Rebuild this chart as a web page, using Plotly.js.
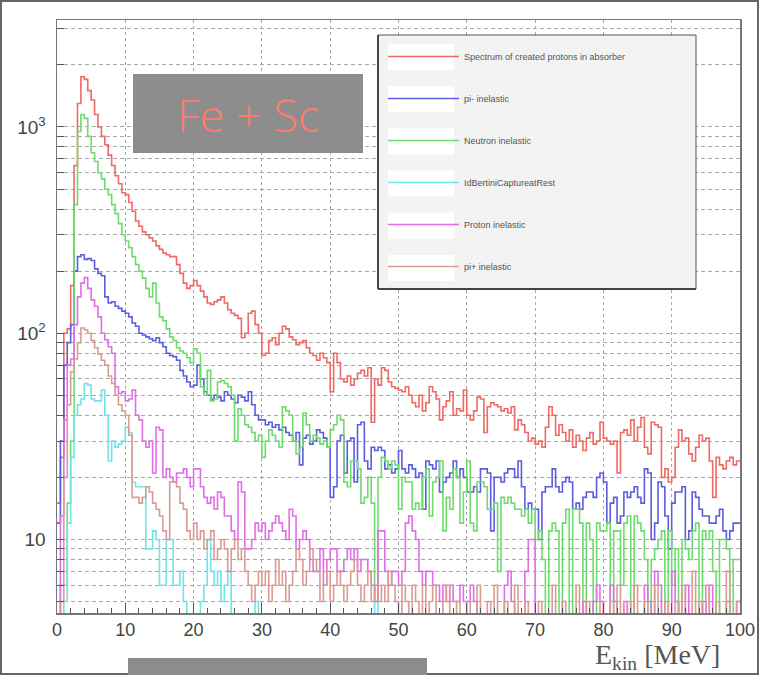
<!DOCTYPE html>
<html>
<head>
<meta charset="utf-8">
<script src="https://cdn.plot.ly/plotly-3.0.1.min.js"></script>
<style>html,body{margin:0;padding:0;background:#fff;}#chart{width:759px;height:675px;}</style>
</head>
<body>
<div id="chart"></div>
<script>
// Histogram binning: 200 bins of 0.5 MeV from 0 to 100 MeV
const binStart = 0;
const binWidth = 0.5;

const seriesNames = [
  "Spectrum of created protons in absorber",
  "pi- inelastic",
  "Neutron inelastic",
  "IdBertiniCaptureatRest",
  "Proton inelastic",
  "pi+ inelastic"
];

const totalSpectrum = [
  15,25,100,105,170,650,1300,1750,1700,1500,1350,1150,1000,900,820,730,650,580,530,480,
  470,430,390,350,330,310,300,290,280,265,255,245,240,235,235,215,195,175,165,170,
  180,170,160,150,140,138,142,145,150,140,130,125,122,118,95,100,125,128,110,100,
  78,80,92,95,88,100,108,105,96,93,88,90,92,85,80,78,74,80,76,72,
  52,80,72,60,58,62,56,60,64,66,62,68,37,60,56,68,66,58,55,54,
  53,52,55,50,46,44,50,42,46,55,52,48,38,44,47,52,40,43,42,53,
  40,38,42,49,48,33,44,46,45,44,42,43,41,44,34,38,36,33,30,31,
  29,30,28,35,44,40,32,36,33,30,34,28,32,30,27,31,33,29,30,37,
  31,30,29,30,21,33,34,32,38,30,35,39,28,26,37,36,35,20,22,19,
  20,28,34,30,31,26,24,28,32,30,31,24,16,25,23,22,24,25,23,24
];

const piMinusInelastic = [
  12,30,70,90,110,200,235,240,228,230,225,205,195,190,150,140,142,135,132,128,
  125,120,112,108,100,98,96,94,92,95,90,86,80,78,77,74,66,62,58,55,
  56,70,60,52,50,48,50,49,47,52,50,48,46,50,49,47,52,45,40,38,
  38,36,37,35,36,34,35,33,32,30,33,23,31,32,29,30,34,33,31,28,
  16,18,30,32,21,30,31,19,36,37,24,22,28,27,28,27,22,23,21,22,
  27,22,21,23,22,20,21,14,24,23,22,24,17,19,20,21,24,20,22,20,
  17,17,18,17,22,22,21,11,20,20,19,21,22,22,20,24,18,14,15,14,
  14,10,17,18,18,22,18,17,19,20,19,14,15,14,16,17,17,16,20,21,
  19,12,15,16,12,13,17,16,17,18,16,15,22,21,10,12,19,18,13,9,
  15,17,17,18,10,11,17,16,14,13,13,12,12,13,14,11,10,11,12,12
];

const neutronInelastic = [
  2,6,6,15,30,420,950,1150,1100,900,750,680,600,560,500,470,420,380,340,300,
  280,260,235,215,200,185,165,150,175,140,120,115,105,96,92,85,82,80,76,72,
  84,80,55,50,66,47,48,58,59,57,55,50,30,43,40,36,35,33,30,32,
  25,30,34,32,30,28,44,42,40,30,26,28,41,36,30,32,31,29,30,28,
  34,36,40,38,19,18,24,24,22,15,16,20,15,5,20,25,24,22,24,23,
  14,20,19,19,14,15,14,20,22,13,19,20,24,11,16,14,22,20,12,17,
  24,12,11,19,19,18,14,14,15,7,16,15,16,15,14,14,13,14,12,14,
  10,11,8,3,11,12,11,2,12,14,3,14,14,12,4,12,10,3,12,11,
  11,12,3,11,11,6,12,13,3,13,12,11,8,3,8,9,10,11,3,11,
  6,9,3,10,9,8,11,12,3,11,10,11,7,3,10,10,9,3,8,8
];

const bertiniCapture = [
  2,3,5,12,25,40,45,48,57,56,48,47,47,53,40,24,30,28,29,30,
  35,33,19,18,18,18,9,9,11,10,6,6,10,10,6,6,7,5,3,2,
  2,3,5,6,10,7,6,7,5,6,7,4,3,2,2,3,2,2,5,2,
  1,1,2,1,1,1,1,2,1,1,1,1,1,1,1,1,1,1,1,1,
  1,1,1,1,1,1,1,1,1,1,1,1,1,5,1,1,1,1,1,1,
  1,1,1,1,1,1,1,1,1,1,1,1,1,1,1,1,1,1,1,1,
  1,1,1,1,1,1,1,1,1,1,1,1,1,1,1,1,1,1,1,1,
  1,1,1,1,1,1,1,1,1,1,1,1,1,1,1,1,1,1,1,1,
  1,1,1,1,1,1,1,1,1,1,1,1,1,1,1,1,1,1,1,1,
  1,1,1,1,1,1,1,1,1,1,1,1,1,1,1,1,1,1,1,1
];

const protonInelastic = [
  3,13,38,70,75,110,150,175,186,165,145,135,120,100,93,86,80,55,51,52,
  47,48,53,40,38,30,28,30,21,35,34,20,22,20,19,21,21,22,20,18,
  22,22,18,16,15,16,14,17,16,13,13,11,10,19,17,9,9,10,12,11,
  12,10,11,12,13,12,11,10,14,13,9,10,11,10,8,7,7,9,6,8,
  9,9,7,7,8,9,8,9,7,8,8,7,6,5,11,11,7,6,7,7,
  6,7,12,13,11,10,7,6,7,7,6,6,5,6,5,6,5,5,6,5,
  5,6,5,4,3,3,4,3,2,3,4,6,7,5,3,4,3,7,10,10,
  4,2,2,3,2,3,2,3,2,2,3,2,3,2,5,4,3,5,6,5,
  3,2,6,5,3,2,5,3,3,2,3,2,6,5,3,7,6,3,2,3,
  7,5,3,2,6,2,3,2,2,5,3,6,3,2,2,4,5,3,2,5
];

const piPlusInelastic = [
  2,5,20,45,65,75,90,106,104,100,92,85,79,74,70,62,57,50,45,42,
  40,32,16,16,15,16,18,17,15,14,13,11,10,19,19,18,15,14,11,10,
  12,10,11,9,10,11,8,9,10,9,7,9,10,8,9,7,6,5,6,7,
  6,7,5,6,8,6,7,5,6,7,9,8,6,7,9,8,7,5,6,7,
  5,6,7,6,5,6,7,8,6,5,6,7,5,6,5,6,5,7,6,5,
  4,6,5,3,6,5,4,6,3,5,6,4,3,5,6,3,4,5,3,4,
  5,3,4,6,3,4,5,3,6,4,3,5,4,3,6,4,3,5,4,3,
  4,5,3,4,3,6,4,3,5,4,3,4,6,3,4,5,3,4,3,5,
  4,3,5,4,6,3,4,5,3,6,4,3,5,4,3,6,4,3,5,4,
  3,5,4,6,3,4,7,3,5,4,6,3,4,5,3,4,7,3,4,5
];

const xTickVals = [0,10,20,30,40,50,60,70,80,90,100];
const yTickVals = [5,6,7,8,9,10,20,30,40,50,60,70,80,90,100,200,300,400,500,600,700,800,900,1000,2000,3000];
const yTickText = ["","","","","","10","","","","","","","","","10<sup>2</sup>","","","","","","","","","10<sup>3</sup>","",""];

const allSeries = [totalSpectrum, piMinusInelastic, neutronInelastic, bertiniCapture, protonInelastic, piPlusInelastic];
const colors = ["#ee6a62", "#5c5ce0", "#6ddc6d", "#6fe4ea", "#e06ee6", "#d99c92"];

// geometry (pixels) for layout decorations
const W = 759, H = 675;
const M = {l: 57, r: 19, t: 20, b: 62};
const PW = W - M.l - M.r, PH = H - M.t - M.b;
const px = v => (v - M.l) / PW;
const py = v => (H - M.b - v) / PH;

const traces = allSeries.map((vals, k) => {
  const xs = vals.map((_, i) => binStart + i * binWidth);
  xs.push(binStart + vals.length * binWidth);
  const ys = vals.slice();
  ys.push(vals[vals.length - 1]);
  return {
    type: "scatter", mode: "lines", x: xs, y: ys,
    name: seriesNames[k], legendgroup: "g" + k,
    line: {shape: "hv", color: colors[k], width: 1.6},
    hoverinfo: "skip"
  };
});

const shapes = [];
// outer image frame
shapes.push({type: "rect", xref: "paper", yref: "paper", x0: px(1), x1: px(W - 1), y0: py(1), y1: py(H - 1), line: {color: "#666", width: 2}, layer: "above"});
// legend box (opaque, above the histograms)
shapes.push({type: "rect", xref: "paper", yref: "paper", x0: px(378), x1: px(696), y0: py(35), y1: py(289), fillcolor: "#f3f3f3", line: {color: "#555", width: 1}, layer: "above"});
shapes.push({type: "line", xref: "paper", yref: "paper", x0: px(378), x1: px(378), y0: py(35), y1: py(289), line: {color: "#444", width: 2}, layer: "above"});
shapes.push({type: "line", xref: "paper", yref: "paper", x0: px(378), x1: px(696), y0: py(289), y1: py(289), line: {color: "#444", width: 2}, layer: "above"});
for (let k = 0; k < 6; k++) {
  const cy = 57 + 42.2 * k;
  shapes.push({type: "rect", xref: "paper", yref: "paper", x0: px(388), x1: px(454), y0: py(cy - 13), y1: py(cy + 13), fillcolor: "#ffffff", line: {width: 0}, layer: "above"});
}
// "Fe + Sc" label box
shapes.push({type: "rect", xref: "paper", yref: "paper", x0: px(133), x1: px(363), y0: py(74), y1: py(153), fillcolor: "#8d8d8d", line: {width: 0}, layer: "above"});
// bottom grey bar
shapes.push({type: "rect", xref: "paper", yref: "paper", x0: px(128), x1: px(427), y0: py(658), y1: py(676), fillcolor: "#8c8c8c", line: {width: 0}, layer: "above"});

const layout = {
  width: W, height: H,
  margin: M,
  paper_bgcolor: "#ffffff", plot_bgcolor: "#ffffff",
  showlegend: true,
  legend: {
    xref: "paper", yref: "paper",
    x: px(383), y: py(42), xanchor: "left", yanchor: "top",
    bgcolor: "rgba(0,0,0,0)", borderwidth: 0,
    font: {family: "Liberation Sans, Arial, sans-serif", size: 9, color: "#555"},
    itemwidth: 71, traceorder: "grouped", tracegroupgap: 23
  },
  xaxis: {
    range: [0, 100], tickvals: xTickVals, ticks: "inside", ticklen: 10, tickcolor: "#555", tickwidth: 1,
    showgrid: true, gridcolor: "#a8a8a8", griddash: "3px,3px", gridwidth: 1,
    showline: true, mirror: true, linecolor: "#777", linewidth: 1.5,
    tickfont: {family: "Liberation Sans, Arial, sans-serif", size: 18, color: "#444"},
    minor: {dtick: 2, ticks: "inside", ticklen: 5, tickcolor: "#555", showgrid: false},
    zeroline: false, automargin: false
  },
  yaxis: {
    type: "log", range: [Math.log10(4.4), Math.log10(3300)],
    tickmode: "array", tickvals: yTickVals, ticktext: yTickText,
    ticks: "inside", ticklen: 7, tickcolor: "#555", ticklabelstandoff: 6,
    showgrid: true, gridcolor: "#a8a8a8", griddash: "4px,3px", gridwidth: 1,
    showline: true, mirror: true, linecolor: "#777", linewidth: 1.5,
    tickfont: {family: "Liberation Sans, Arial, sans-serif", size: 19, color: "#444"},
    zeroline: false, automargin: false
  },
  shapes: shapes,
  annotations: [
    {xref: "paper", yref: "paper", x: px(248), y: py(115), text: "Fe + Sc", showarrow: false,
     font: {family: "Open Sans, Liberation Sans, sans-serif", size: 45, color: "#ff7c6c", weight: 300}, xanchor: "center", yanchor: "middle"},
    {xref: "paper", yref: "paper", x: px(722), y: py(656), text: "E<sub>kin</sub> [MeV]", showarrow: false,
     font: {family: "Liberation Serif, Times New Roman, serif", size: 28, color: "#555"}, xanchor: "right", yanchor: "middle"}
  ]
};

Plotly.newPlot("chart", traces, layout, {staticPlot: true});
</script>
</body>
</html>
